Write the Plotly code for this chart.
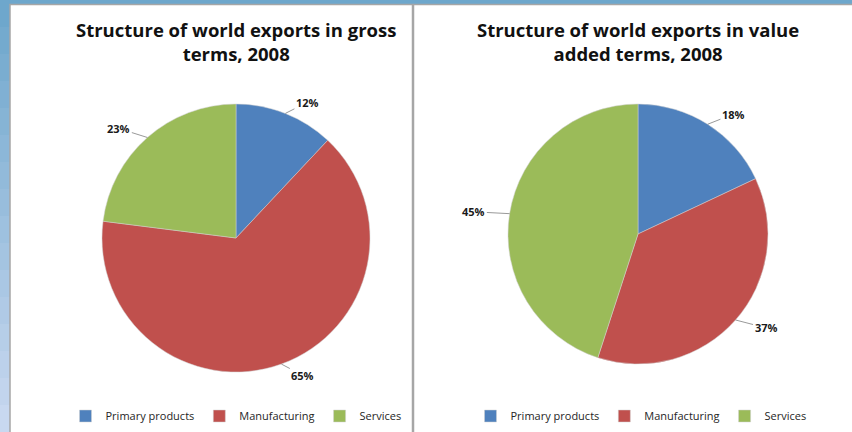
import numpy as np
import plotly.graph_objects as go

# Data
categories = ['Primary products', 'Manufacturing', 'Services']
gross_2008 = [12, 65, 23]
value_added_2008 = [18, 37, 45]
colors = ['#4f81bd', '#c0504d', '#9bbb59']

W, H = 852, 432

def px(x):
    return x / W

def py(y):
    return 1 - y / H

# pie placement in pixels: centre x, centre y, radius
# (zero-width space keeps the second pie's legend entries separate from the first)
pies = [
    dict(values=gross_2008, labels=categories, cx=236, cy=238, r=134,
         legend='legend', lx=236,
         title='Structure of world exports in gross<br>terms, 2008'),
    dict(values=value_added_2008, labels=[c + '\u200b' for c in categories],
         cx=638, cy=234, r=130, legend='legend2', lx=641,
         title='Structure of world exports in value<br>added terms, 2008'),
]

fig = go.Figure()
annotations = []
title_font = dict(family='Open Sans', size=18.5, color='#111111', weight='bold')
label_font = dict(family='Open Sans', size=11, color='#1a1a1a', weight='bold')

for p in pies:
    fig.add_trace(go.Pie(
        labels=p['labels'], values=p['values'], textinfo='none',
        sort=False, direction='clockwise', rotation=0,
        marker=dict(colors=colors, line=dict(color='#d0d0d0', width=0.5)),
        domain=dict(x=[px(p['cx'] - p['r']), px(p['cx'] + p['r'])],
                    y=[py(p['cy'] + p['r']), py(p['cy'] - p['r'])]),
        legend=p['legend'], hoverinfo='label+percent',
    ))
    annotations.append(dict(text=p['title'], x=px(p['cx']), y=py(41),
                            xref='paper', yref='paper', showarrow=False,
                            xanchor='center', yanchor='middle', font=title_font))
    # outside labels with leader lines, placed from the slice mid angles
    vals = np.array(p['values'], dtype=float)
    cum = np.cumsum(vals) - vals / 2
    for v, c in zip(p['values'], cum):
        ang = 2 * np.pi * c / vals.sum()
        ux, uy = np.sin(ang), -np.cos(ang)
        ex = p['cx'] + p['r'] * ux
        ey = p['cy'] + p['r'] * uy
        side = 1 if ux >= 0 else -1
        annotations.append(dict(
            text=f'{v}%', x=px(ex), y=py(ey), xref='paper', yref='paper',
            ax=ux * 22 + side * 14, ay=uy * 12, showarrow=True,
            arrowhead=0, arrowwidth=0.8, arrowcolor='#7f7f7f',
            standoff=0, startstandoff=0, font=label_font))

# background strips and white panels
shapes = []
top_rgb = np.array([110, 167, 204])
bot_rgb = np.array([200, 216, 240])
n = 16
for i in range(n):
    c = top_rgb + (bot_rgb - top_rgb) * i / (n - 1)
    shapes.append(dict(type='rect', xref='paper', yref='paper',
                       x0=0, x1=px(12), y0=1 - (i + 1) / n, y1=1 - i / n,
                       fillcolor='rgb(%d,%d,%d)' % tuple(c.astype(int)),
                       line=dict(width=0), layer='below'))
shapes.append(dict(type='rect', xref='paper', yref='paper',
                   x0=0, x1=1, y0=py(5), y1=1,
                   fillcolor='#6ea7cc', line=dict(width=0), layer='below'))
shapes.append(dict(type='rect', xref='paper', yref='paper',
                   x0=px(10), x1=px(412.5), y0=-0.01, y1=py(4.5),
                   fillcolor='white', line=dict(color='#a6a6a6', width=1.5), layer='below'))
shapes.append(dict(type='rect', xref='paper', yref='paper',
                   x0=px(413.5), x1=1.01, y0=-0.01, y1=py(4.5),
                   fillcolor='white', line=dict(color='#a6a6a6', width=1.5), layer='below'))

legend_style = dict(orientation='h', xanchor='center', yanchor='middle',
                    font=dict(family='Open Sans', size=11, color='#262626'),
                    bgcolor='rgba(0,0,0,0)', itemwidth=30)

fig.update_layout(
    width=W, height=H,
    margin=dict(l=0, r=0, t=0, b=0),
    paper_bgcolor='#6ea7cc',
    plot_bgcolor='white',
    shapes=shapes,
    annotations=annotations,
    showlegend=True,
    legend=dict(x=px(pies[0]['lx']), y=py(416), **legend_style),
    legend2=dict(x=px(pies[1]['lx']), y=py(416), **legend_style),
)

fig.write_html('out.html', config={'displayModeBar': False},
               post_script="document.body.style.margin='0';")
